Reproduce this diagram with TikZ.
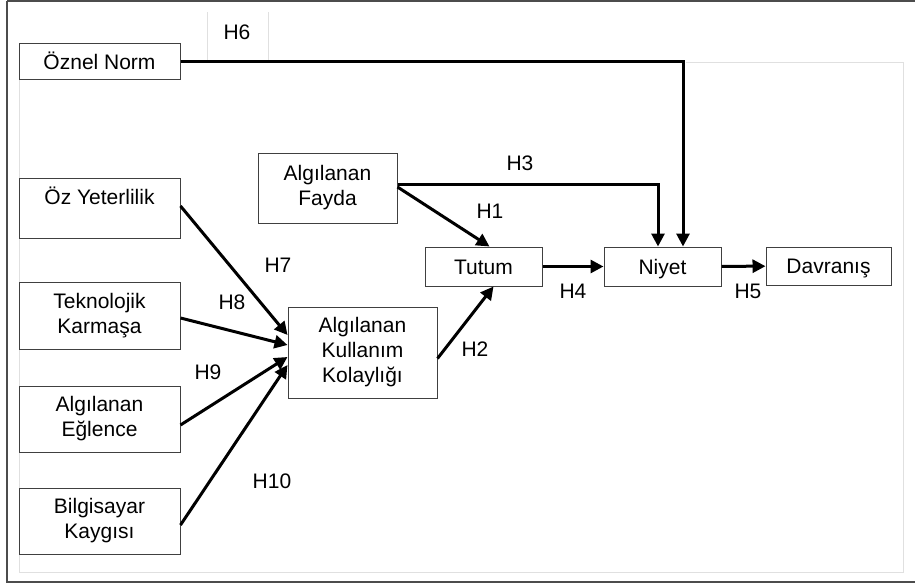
\documentclass[tikz,border=0pt]{standalone}
\usepackage{fontspec}
\setmainfont{Liberation Sans}
\usepackage{tikz}
\usetikzlibrary{arrows.meta,positioning,calc}

\tikzset{
  kutu/.style={draw=black!75, line width=0.5pt, align=center, inner sep=1pt,
    font=\fontsize{10.5}{12.5}\selectfont},
  tek/.style={kutu, text height=7.6pt, text depth=0pt},
  ok/.style={line width=1.5pt, -{Triangle[length=6.5pt,width=6.5pt]}},
  etiket/.style={font=\fontsize{10.5}{12.5}\selectfont, inner sep=0pt},
  silik/.style={draw=black!12, line width=0.4pt}
}

\begin{document}
\begin{tikzpicture}[x=0.5pt, y=-0.5pt]
    \useasboundingbox (0,0) rectangle (915,583);
    % outer frame and faint table lines
    \draw[black!70, line width=0.8pt] (7,1) -- (915,1);
    \draw[black!70, line width=0.8pt] (7,1) -- (7,582) -- (915,582);
    \draw[silik] (207,12) -- (207,60);
    \draw[silik] (268,12) -- (268,60);
    \draw[silik] (686,62) -- (903,62) -- (903,572) -- (19,572) -- (19,80);

    % boxes
    \node[tek, minimum width=80.5pt, minimum height=18pt] (oznel) at (99.5,62) {Öznel Norm};
    \node[kutu, minimum width=80.5pt, minimum height=30pt] (ozyet) at (99.5,208) {Öz Yeterlilik\\\mbox{}};
    \node[kutu, minimum width=80.5pt, minimum height=33.5pt] (tekno) at (99.5,315.5) {Teknolojik\\Karmaşa};
    \node[kutu, minimum width=80.5pt, minimum height=33pt] (eglence) at (99.5,419) {Algılanan\\Eğlence};
    \node[kutu, minimum width=80.5pt, minimum height=33pt] (kaygi) at (99.5,521) {Bilgisayar\\Kaygısı};
    \node[kutu, minimum width=69.5pt, minimum height=35pt] (fayda) at (327.5,188) {Algılanan\\Fayda};
    \node[kutu, minimum width=74.5pt, minimum height=45.5pt] (kolay) at (362.5,352.5) {Algılanan\\Kullanım\\Kolaylığı};
    \node[tek, minimum width=58.5pt, minimum height=19.5pt] (tutum) at (483.5,266.5) {Tutum};
    \node[tek, minimum width=58.5pt, minimum height=19.5pt] (niyet) at (662.5,266.5) {Niyet};
    \node[tek, minimum width=62.5pt, minimum height=19pt] (davranis) at (828.5,266) {Davranış};

    % arrows
    \draw[ok] (oznel.east) -| ([xshift=10.25pt]niyet.north);
    \draw[ok] ([yshift=2pt]fayda.east) -| ([xshift=-2.25pt]niyet.north);
    \draw[ok] ([yshift=0.5pt]fayda.east) -- ([xshift=3pt]tutum.north);
    \draw[ok] ([yshift=-3pt]kolay.east) -- ([xshift=5pt]tutum.south);
    \draw[ok] (tutum) -- (niyet);
    \draw[ok] (niyet) -- (davranis);
    \draw[ok] ([yshift=1pt]ozyet.east) -- ([yshift=8.75pt]kolay.west);
    \draw[ok] ([yshift=-1.25pt]tekno.east) -- ([yshift=3.75pt]kolay.west);
    \draw[ok] ([yshift=-3pt]eglence.east) -- ([yshift=-2.25pt]kolay.west);
    \draw[ok] ([yshift=-2pt]kaygi.east) -- ([yshift=-6.25pt]kolay.west);

    % hypothesis labels
    \node[etiket] (h6) at (237,32) {H6};
    \node[etiket] (h3) at (520,163) {H3};
    \node[etiket] (h1) at (490,211) {H1};
    \node[etiket] (h7) at (278,265) {H7};
    \node[etiket] (h8) at (232,302) {H8};
    \node[etiket] (h9) at (208,372) {H9};
    \node[etiket] (h10) at (272,481) {H10};
    \node[etiket] (h2) at (475,349) {H2};
    \node[etiket] (h4) at (573,291) {H4};
    \node[etiket] (h5) at (748,291) {H5};
  \end{tikzpicture}
\end{document}
